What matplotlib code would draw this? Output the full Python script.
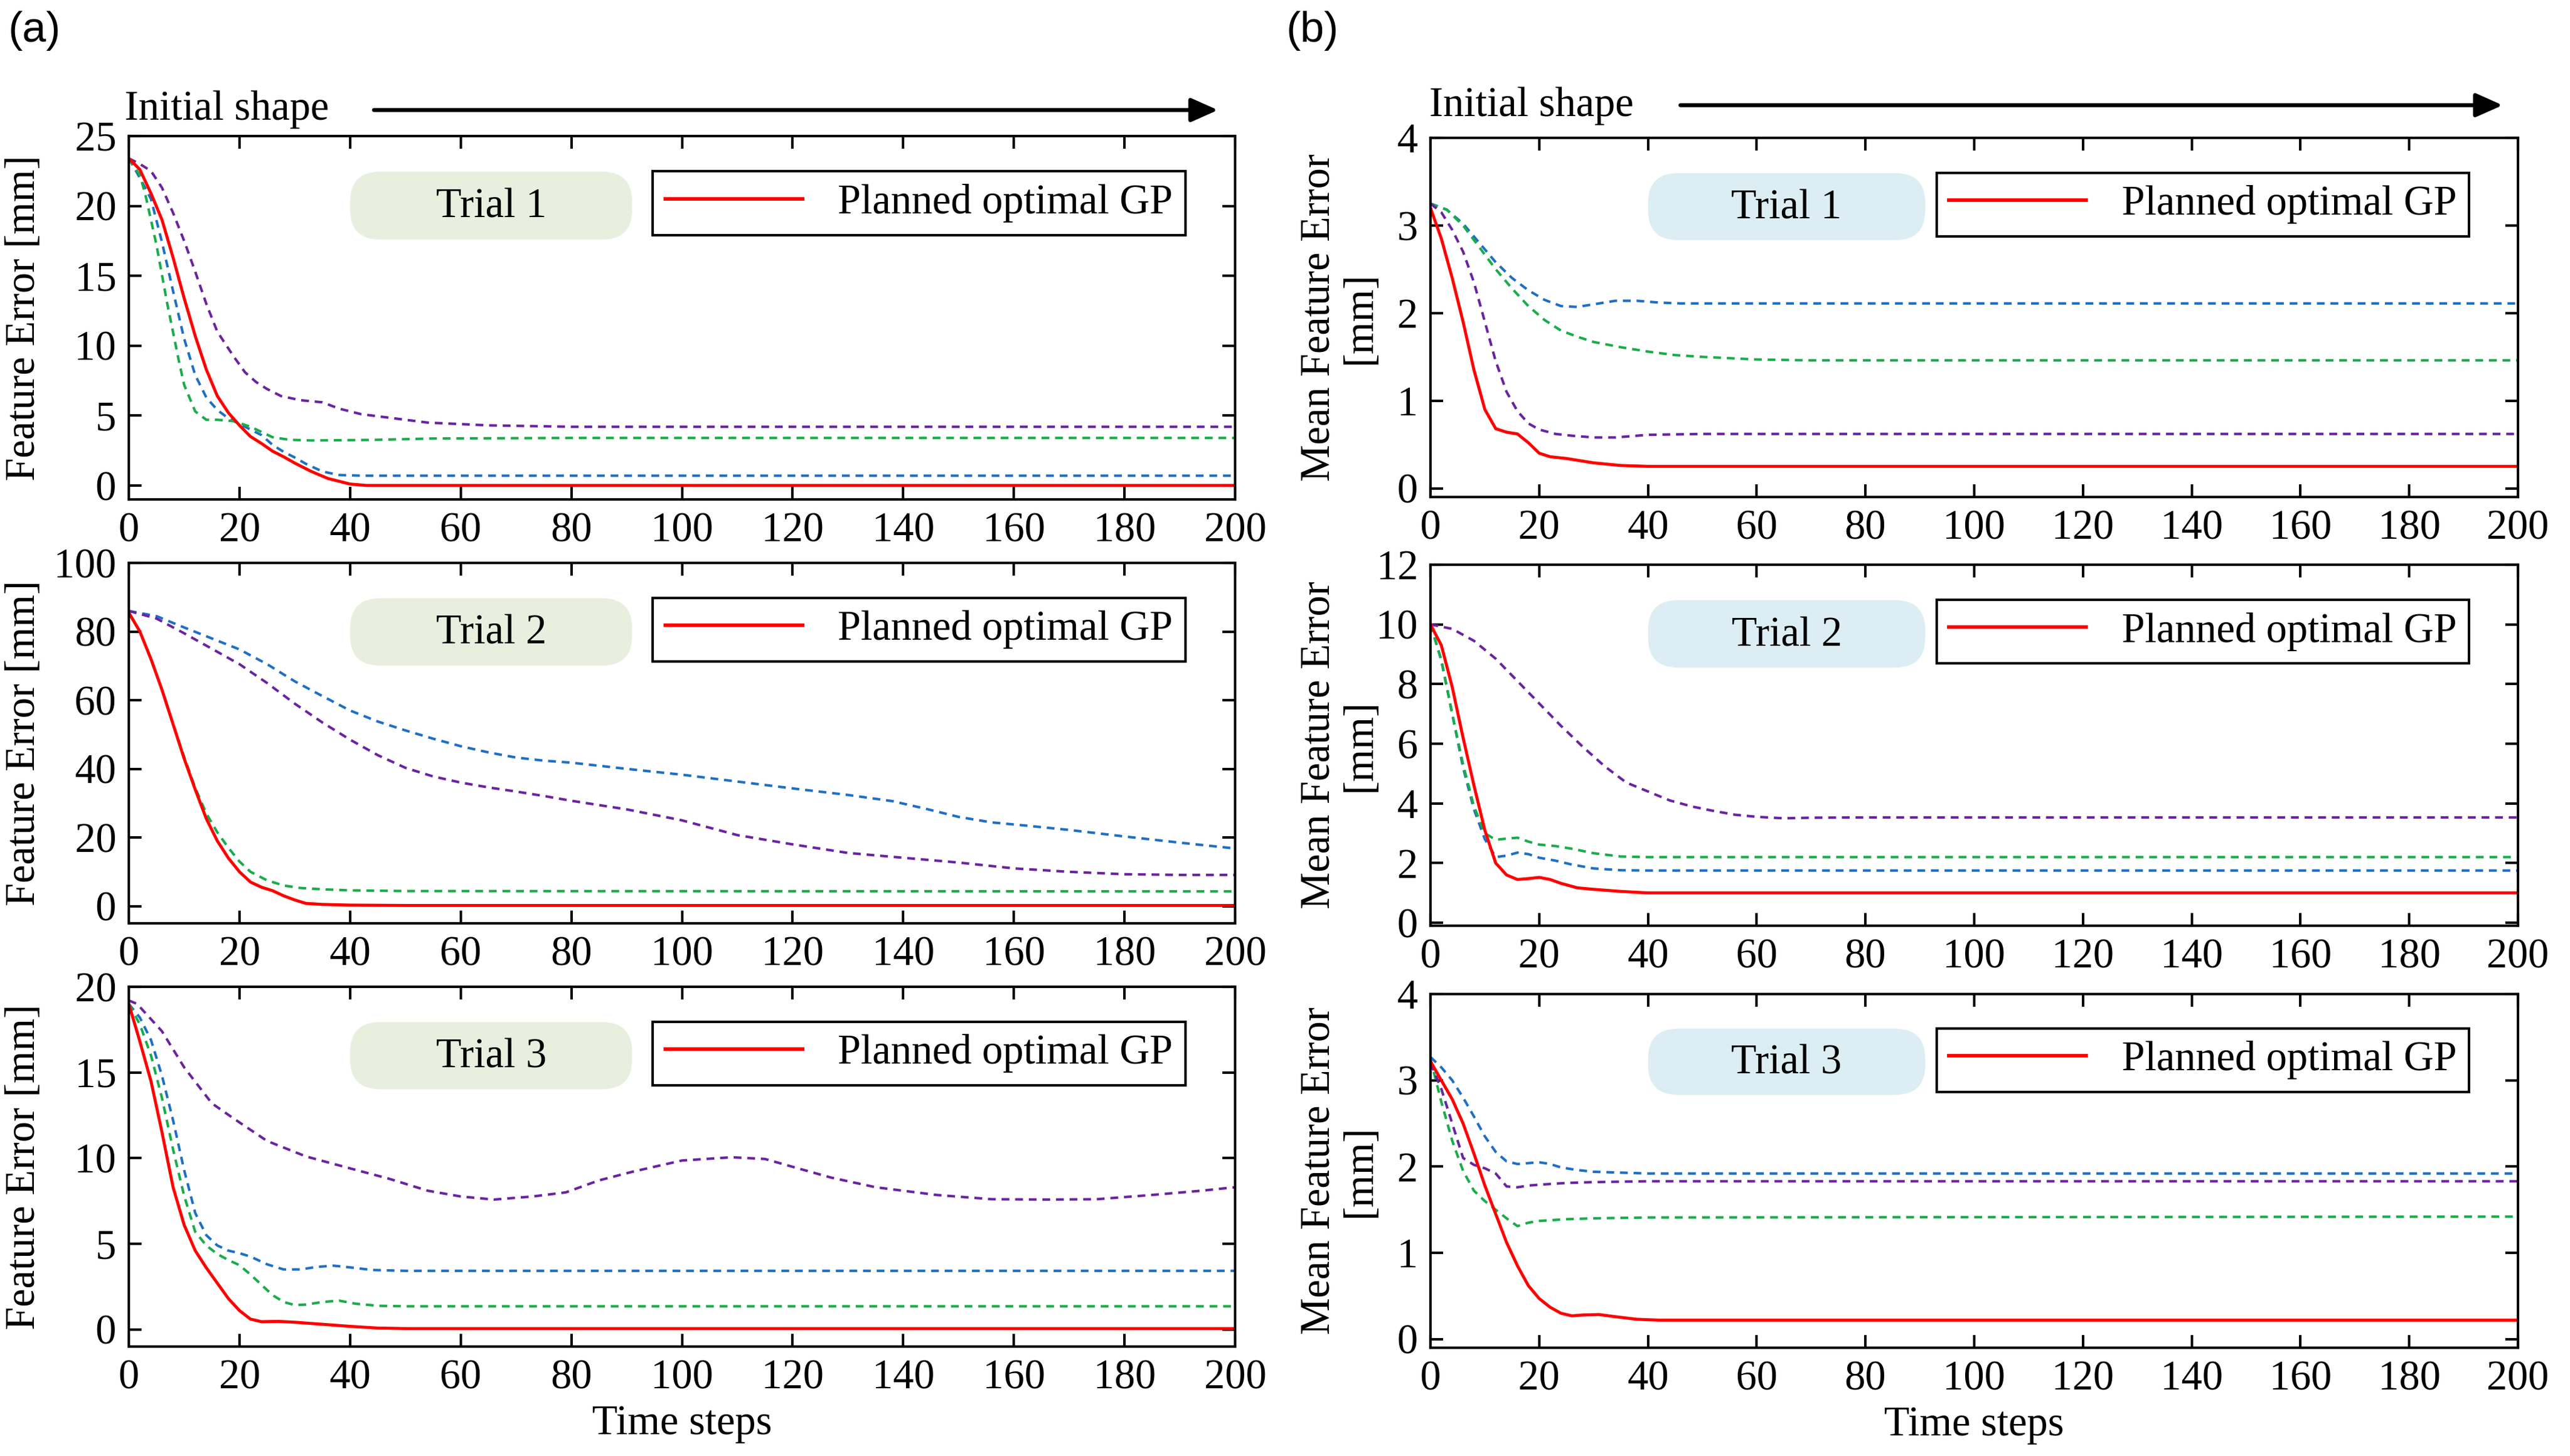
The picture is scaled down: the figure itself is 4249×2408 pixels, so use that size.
import matplotlib
matplotlib.use("Agg")
import matplotlib.pyplot as plt
from matplotlib.patches import FancyBboxPatch, FancyArrowPatch
from matplotlib.lines import Line2D

SERIF = ['Liberation Serif', 'DejaVu Serif']
plt.rcParams['font.family'] = SERIF
plt.rcParams['font.size'] = 16.5

W, H, DPI = 4249, 2408, 300

RED = '#ff0000'
BLUE = '#1f6fc4'
GREEN = '#1aac4a'
PURPLE = '#6a23a0'

time_ticks = list(range(0, 201, 20))
trial_names = ['Trial 1', 'Trial 2', 'Trial 3']
legend_label = 'Planned optimal GP'

# ---- (a) Feature Error, Trial 1 ----
a1_red_t = [0, 2, 4, 6, 8, 10, 12, 14, 16, 18, 20, 22, 24, 26, 28, 30, 33, 36, 40, 43, 200]
a1_red_v = [23.4, 22.6, 20.9, 19.0, 16.3, 13.4, 10.7, 8.3, 6.4, 5.2, 4.3, 3.5, 3.0, 2.45, 2.05, 1.6, 1.0, 0.5, 0.1, 0.0, 0.0]
a1_green_t = [0, 2, 3, 5, 7, 9, 10, 12, 14, 16, 19, 22, 26, 29, 33, 44, 55, 80, 200]
a1_green_v = [23.4, 22.2, 20.8, 17.2, 12.9, 9.0, 7.2, 5.3, 4.7, 4.7, 4.6, 4.2, 3.45, 3.27, 3.22, 3.26, 3.36, 3.4, 3.4]
a1_blue_t = [0, 2, 4, 6, 8, 10, 12, 14, 16, 18, 20, 22, 24, 26, 28, 30, 32, 35, 38, 42, 200]
a1_blue_v = [23.4, 22.0, 20.5, 17.4, 13.9, 10.5, 7.9, 6.3, 5.4, 4.8, 4.4, 4.0, 3.6, 2.9, 2.4, 2.0, 1.55, 1.0, 0.75, 0.7, 0.7]
a1_purple_t = [0, 2, 4, 6, 8, 10, 12, 14, 16, 18, 19, 21, 23, 25, 27.5, 31, 35, 38, 42, 48, 54, 65, 80, 200]
a1_purple_v = [23.4, 23.0, 22.5, 21.3, 19.5, 17.5, 15.3, 13.0, 11.0, 9.8, 9.2, 8.1, 7.4, 6.9, 6.4, 6.1, 5.95, 5.5, 5.1, 4.8, 4.5, 4.3, 4.2, 4.2]

# ---- (a) Feature Error, Trial 2 ----
a2_red_t = [0, 2, 4, 6, 8, 10, 12, 14, 16, 18, 20, 22, 24, 26, 28, 30, 32, 35, 40, 50, 200]
a2_red_v = [85.5, 80, 72, 63, 53, 43, 34, 25.5, 19, 14, 10, 7, 5.5, 4.5, 3, 1.8, 0.8, 0.5, 0.3, 0.2, 0.2]
a2_green_t = [0, 2, 4, 6, 8, 10, 12, 14, 16, 18, 20, 22, 25, 28, 31, 35, 40, 50, 200]
a2_green_v = [85.5, 80, 72, 63, 53, 43.5, 34.5, 27, 21.5, 17, 13, 10, 7.5, 6, 5.3, 4.9, 4.6, 4.4, 4.3]
a2_blue_t = [0, 5, 10, 15, 20, 25, 30, 35, 40, 45, 50, 55, 60, 65, 70, 75, 80, 90, 100, 110, 120, 130, 138, 144, 150, 156, 162, 170, 180, 190, 200]
a2_blue_v = [86, 84.5, 81.2, 78.0, 74.8, 70.5, 65.5, 61.2, 57.0, 53.8, 51.2, 48.8, 46.6, 44.8, 43.3, 42.4, 41.8, 40.0, 38.3, 36.3, 34.3, 32.4, 30.6, 28.4, 26.0, 24.4, 23.5, 22.2, 20.3, 18.5, 16.8]
a2_purple_t = [0, 5, 10, 15, 20, 25, 30, 35, 40, 45, 50, 55, 60, 65, 70, 75, 80, 90, 100, 110, 120, 130, 140, 150, 160, 170, 180, 190, 200]
a2_purple_v = [86, 83.8, 79.5, 75.0, 70.5, 65.0, 59.0, 53.5, 48.5, 44.0, 40.3, 37.8, 36.0, 34.6, 33.4, 32.1, 30.7, 28.2, 25.0, 20.7, 18.0, 15.5, 14.1, 12.7, 11.0, 10.0, 9.3, 9.1, 9.1]

# ---- (a) Feature Error, Trial 3 ----
a3_red_t = [0, 2, 4, 6, 8, 10, 12, 14, 16, 18, 20, 22, 24, 27, 30, 35, 40, 45, 50, 200]
a3_red_v = [19, 16.8, 14.5, 11.5, 8.3, 6.1, 4.6, 3.6, 2.7, 1.8, 1.1, 0.6, 0.45, 0.47, 0.42, 0.3, 0.18, 0.08, 0.05, 0.05]
a3_blue_t = [0, 2, 4, 6, 8, 10, 12, 14, 16, 18, 20, 22, 25, 28, 31, 34, 37, 40, 44, 50, 200]
a3_blue_v = [19, 18.2, 16.9, 14.8, 12.2, 9.3, 6.8, 5.5, 4.9, 4.6, 4.45, 4.25, 3.8, 3.5, 3.5, 3.65, 3.72, 3.62, 3.47, 3.42, 3.42]
a3_green_t = [0, 2, 4, 6, 8, 10, 12, 14, 16, 18, 20, 22, 24, 26, 28, 30, 32, 35, 38, 41, 45, 50, 200]
a3_green_v = [19, 17.8, 16.0, 13.5, 10.5, 7.8, 5.7, 4.9, 4.4, 4.05, 3.75, 3.2, 2.6, 2.0, 1.6, 1.42, 1.45, 1.6, 1.68, 1.5, 1.38, 1.35, 1.35]
a3_purple_t = [0, 1.5, 6, 10, 15, 19, 25, 32, 40, 47, 54, 60, 66, 73, 79, 85, 91, 100, 109, 115, 121, 127, 135, 146, 156, 166, 175, 185, 194, 200]
a3_purple_v = [19.2, 19.0, 17.4, 15.3, 13.2, 12.3, 11.0, 10.1, 9.4, 8.8, 8.1, 7.76, 7.58, 7.76, 8.0, 8.7, 9.2, 9.86, 10.05, 9.95, 9.4, 8.86, 8.3, 7.85, 7.6, 7.58, 7.6, 7.85, 8.1, 8.3]

# ---- (b) Mean Feature Error, Trial 1 ----
b1_red_t = [0, 2, 4, 6, 8, 10, 12, 14, 16, 18, 20, 22, 25, 30, 35, 40, 200]
b1_red_v = [3.2, 2.85, 2.4, 1.9, 1.35, 0.9, 0.68, 0.64, 0.62, 0.52, 0.4, 0.36, 0.34, 0.29, 0.26, 0.25, 0.25]
b1_purple_t = [0, 2, 4, 6, 8, 10, 12, 14, 16, 18, 20, 23, 26, 30, 34, 40, 50, 200]
b1_purple_v = [3.25, 3.15, 2.95, 2.7, 2.35, 1.9, 1.45, 1.1, 0.88, 0.74, 0.67, 0.62, 0.6, 0.58, 0.58, 0.61, 0.62, 0.62]
b1_blue_t = [0, 3, 6, 9, 12, 15, 18, 21, 24, 27, 30, 34, 38, 42, 46, 200]
b1_blue_v = [3.25, 3.18, 3.02, 2.8, 2.58, 2.4, 2.26, 2.15, 2.08, 2.07, 2.1, 2.14, 2.14, 2.12, 2.11, 2.11]
b1_green_t = [0, 3, 6, 9, 12, 15, 18, 21, 24, 27, 30, 35, 40, 45, 50, 60, 70, 200]
b1_green_v = [3.25, 3.18, 3.0, 2.75, 2.5, 2.28, 2.08, 1.92, 1.8, 1.73, 1.67, 1.61, 1.56, 1.52, 1.5, 1.47, 1.46, 1.46]

# ---- (b) Mean Feature Error, Trial 2 ----
b2_red_t = [0, 2, 4, 6, 8, 10, 12, 14, 16, 18, 20, 22, 24, 27, 30, 35, 40, 200]
b2_red_v = [10, 9.3, 7.9, 6.2, 4.6, 3.1, 2.0, 1.6, 1.45, 1.48, 1.52, 1.45, 1.32, 1.17, 1.12, 1.05, 1.0, 1.0]
b2_blue_t = [0, 2, 4, 6, 8, 10, 12, 14, 16, 18, 20, 23, 26, 30, 35, 40, 200]
b2_blue_v = [10, 8.8, 7.0, 5.2, 3.8, 2.8, 2.2, 2.25, 2.35, 2.3, 2.18, 2.08, 1.95, 1.82, 1.76, 1.75, 1.75]
b2_green_t = [0, 2, 4, 6, 8, 10, 12, 14, 16, 18, 20, 23, 26, 30, 35, 40, 200]
b2_green_v = [10, 8.8, 7.0, 5.3, 3.9, 3.0, 2.78, 2.82, 2.85, 2.72, 2.62, 2.57, 2.48, 2.33, 2.22, 2.2, 2.2]
b2_purple_t = [0, 4, 8, 12, 16, 20, 24, 28, 32, 36, 40, 44, 48, 52, 56, 60, 65, 70, 80, 200]
b2_purple_v = [10, 9.85, 9.45, 8.85, 8.1, 7.35, 6.6, 5.9, 5.25, 4.7, 4.4, 4.1, 3.9, 3.75, 3.62, 3.55, 3.5, 3.52, 3.53, 3.53]

# ---- (b) Mean Feature Error, Trial 3 ----
b3_red_t = [0, 2, 4, 6, 8, 10, 12, 14, 16, 18, 20, 22, 24, 26, 28, 31, 34, 38, 42, 200]
b3_red_v = [3.22, 3.0, 2.78, 2.5, 2.15, 1.78, 1.45, 1.12, 0.85, 0.62, 0.47, 0.37, 0.3, 0.27, 0.28, 0.285, 0.26, 0.23, 0.22, 0.22]
b3_blue_t = [0, 2, 4, 6, 8, 10, 12, 14, 16, 18, 20, 22, 24, 27, 30, 35, 40, 200]
b3_blue_v = [3.27, 3.15, 3.0, 2.8, 2.58, 2.35, 2.17, 2.06, 2.03, 2.04, 2.05, 2.03, 1.99, 1.96, 1.94, 1.93, 1.92, 1.92]
b3_purple_t = [0, 2, 4, 6, 8, 10, 12, 14, 16, 18, 20, 25, 30, 40, 50, 200]
b3_purple_v = [3.2, 2.9, 2.5, 2.1, 2.02, 1.98, 1.92, 1.77, 1.76, 1.78, 1.79, 1.81, 1.82, 1.83, 1.83, 1.83]
b3_green_t = [0, 2, 4, 6, 8, 10, 12, 14, 16, 18, 20, 25, 30, 40, 200]
b3_green_v = [3.25, 2.75, 2.3, 1.95, 1.72, 1.6, 1.5, 1.4, 1.31, 1.35, 1.37, 1.39, 1.4, 1.41, 1.42]

a_ylims = [(-1, 25), (-5, 100), (-1, 20)]
a_yticks = [list(range(0, 26, 5)), list(range(0, 101, 20)), list(range(0, 21, 5))]
b_ylims = [(-0.1, 4), (-0.1, 12), (-0.1, 4)]
b_yticks = [list(range(0, 5)), list(range(0, 13, 2)), list(range(0, 5))]

# axes boxes in pixels: (left, top, right, bottom)
a_boxes = [(213, 225, 2042, 826), (213, 931, 2042, 1527), (213, 1632, 2042, 2227)]
b_boxes = [(2365, 228, 4163, 822), (2365, 934, 4163, 1531), (2365, 1644, 4163, 2229)]

fig = plt.figure(figsize=(W / DPI, H / DPI), dpi=DPI)


def make_axes(box):
    l, t, r, b = box
    return fig.add_axes([l / W, 1 - b / H, (r - l) / W, (b - t) / H])


def style_axes(ax, ylim, yticks):
    ax.set_xlim(0, 200)
    ax.set_ylim(*ylim)
    ax.set_xticks(time_ticks)
    ax.set_yticks(yticks)
    ax.set_xticklabels([str(v) for v in time_ticks], family=SERIF)
    ax.set_yticklabels([str(v) for v in yticks], family=SERIF)
    ax.tick_params(direction='in', top=True, right=True, length=5, width=1.0,
                   labelsize=16.5, pad=5)
    for s in ax.spines.values():
        s.set_linewidth(1.0)
        s.set_color('black')


def draw_series(ax, red, blue, green, purple):
    dash = (3.1, 2.3)
    ax.plot(blue[0], blue[1], color=BLUE, lw=1.0, dashes=dash)
    ax.plot(green[0], green[1], color=GREEN, lw=1.0, dashes=dash)
    ax.plot(purple[0], purple[1], color=PURPLE, lw=1.0, dashes=dash)
    ax.plot(red[0], red[1], color=RED, lw=1.2)


def trial_box(ax, box, label, color):
    l, t, r, b = box
    wpx, hpx = r - l, b - t
    x0, x1 = 0.200, 0.455
    y0, y1 = 0.715, 0.902
    rad = 50 / wpx
    patch = FancyBboxPatch((x0, y0), x1 - x0, y1 - y0,
                           boxstyle=f'round,pad=0,rounding_size={rad}',
                           mutation_aspect=wpx / hpx, transform=ax.transAxes,
                           fc=color, ec='none', zorder=5)
    ax.add_patch(patch)
    ax.text((x0 + x1) / 2, (y0 + y1) / 2 - 0.005, label, transform=ax.transAxes,
            ha='center', va='center', fontsize=16.5, zorder=6)
    handle = Line2D([], [], color=RED, lw=1.4)
    leg = ax.legend([handle], [legend_label], loc='upper right',
                    bbox_to_anchor=(0.955, 0.903), borderaxespad=0,
                    fancybox=False, edgecolor='black', framealpha=1,
                    handlelength=3.3, handletextpad=0.85, borderpad=0.3,
                    prop={'family': SERIF, 'size': 16.5})
    leg.get_frame().set_linewidth(1.0)


a_data = [
    ((a1_red_t, a1_red_v), (a1_blue_t, a1_blue_v), (a1_green_t, a1_green_v), (a1_purple_t, a1_purple_v)),
    ((a2_red_t, a2_red_v), (a2_blue_t, a2_blue_v), (a2_green_t, a2_green_v), (a2_purple_t, a2_purple_v)),
    ((a3_red_t, a3_red_v), (a3_blue_t, a3_blue_v), (a3_green_t, a3_green_v), (a3_purple_t, a3_purple_v)),
]
b_data = [
    ((b1_red_t, b1_red_v), (b1_blue_t, b1_blue_v), (b1_green_t, b1_green_v), (b1_purple_t, b1_purple_v)),
    ((b2_red_t, b2_red_v), (b2_blue_t, b2_blue_v), (b2_green_t, b2_green_v), (b2_purple_t, b2_purple_v)),
    ((b3_red_t, b3_red_v), (b3_blue_t, b3_blue_v), (b3_green_t, b3_green_v), (b3_purple_t, b3_purple_v)),
]

for i in range(3):
    # left column
    ax = make_axes(a_boxes[i])
    style_axes(ax, a_ylims[i], a_yticks[i])
    draw_series(ax, *a_data[i])
    trial_box(ax, a_boxes[i], trial_names[i], '#e9efdf')
    ax.set_ylabel('Feature Error [mm]', fontsize=16.5)
    ax.yaxis.set_label_coords(-0.077, 0.5)
    if i == 2:
        ax.set_xlabel('Time steps', fontsize=16.5, labelpad=3)

    # right column
    ax = make_axes(b_boxes[i])
    style_axes(ax, b_ylims[i], b_yticks[i])
    draw_series(ax, *b_data[i])
    trial_box(ax, b_boxes[i], trial_names[i], '#dceef3')
    ax.set_ylabel('Mean Feature Error\n[mm]', fontsize=16.5, linespacing=1.1)
    ax.yaxis.set_label_coords(-0.047, 0.5)
    if i == 2:
        ax.set_xlabel('Time steps', fontsize=16.5, labelpad=3)

# panel letters
fig.text(14 / W, 1 - 18 / H, '(a)', family=['Liberation Sans', 'DejaVu Sans'],
         fontsize=17, ha='left', va='top')
fig.text(2127 / W, 1 - 18 / H, '(b)', family=['Liberation Sans', 'DejaVu Sans'],
         fontsize=17, ha='left', va='top')

# "Initial shape" arrows
for tx, ty, ax0, ax1, ay in [(206, 198, 610, 2022, 182), (2363, 192, 2770, 4146, 174)]:
    fig.text(tx / W, 1 - ty / H, 'Initial shape', fontsize=16.5, ha='left', va='baseline')
    arr = FancyArrowPatch((ax0 / W, 1 - ay / H), (ax1 / W, 1 - ay / H),
                          transform=fig.transFigure,
                          arrowstyle='-|>,head_length=9,head_width=4',
                          mutation_scale=1, lw=1.6, color='black')
    fig.add_artist(arr)

fig.savefig('out.png', dpi=DPI)
